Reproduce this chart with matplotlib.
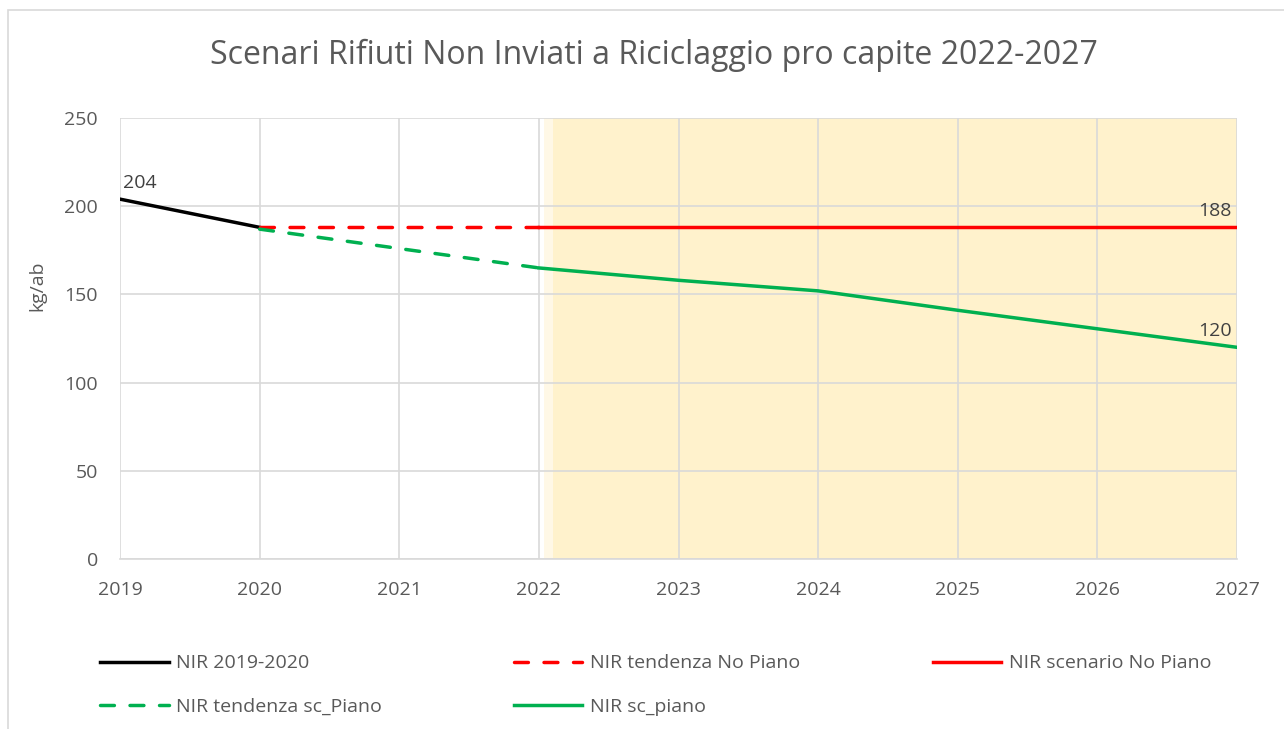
import numpy as np
import matplotlib.pyplot as plt
from matplotlib.patches import Rectangle

plt.rcParams['font.family'] = ['Open Sans', 'DejaVu Sans']

years = ['2019', '2020', '2021', '2022', '2023', '2024', '2025', '2026', '2027']
x = np.arange(len(years))

nir_2019_2020 = [204, 188]
tend_no_piano = [188, 188, 188]
scen_no_piano = [188, 188, 188, 188, 188, 188]
tend_sc_piano = [187, 176, 165]
sc_piano = [165, 158, 152, 141, 130.5, 120]

grey = '#595959'
red = '#FF0000'
green = '#00B050'

fig = plt.figure(figsize=(12.84, 7.29), dpi=100)
ax = fig.add_axes([120 / 1284, 1 - 559 / 729, (1237 - 120) / 1284, (559 - 118) / 729])

# chart border
fig.patches.append(Rectangle((8 / 1284, -0.01), 1.2, 1 - 10 / 729 + 0.01, transform=fig.transFigure,
                             fill=False, edgecolor='#D9D9D9', lw=1.2))

# shaded plan period
ax.axvspan(3.036, 3.1, color='#FFF8E6', lw=0, zorder=0)
ax.axvspan(3.1, 8, color='#FFF2CC', lw=0, zorder=0)

lw = 2.5
l1, = ax.plot(x[0:2], nir_2019_2020, color='black', lw=lw, label='NIR 2019-2020', zorder=3)
l2, = ax.plot(x[1:4], tend_no_piano, color=red, lw=lw, dashes=(4, 4.5), dash_capstyle='round',
              label='NIR tendenza No Piano', zorder=3)
l3, = ax.plot(x[3:9], scen_no_piano, color=red, lw=lw, label='NIR scenario No Piano', zorder=3)
l4, = ax.plot(x[1:4], tend_sc_piano, color=green, lw=lw, dashes=(4, 4.5), dash_capstyle='round',
              label='NIR tendenza sc_Piano', zorder=3)
l5, = ax.plot(x[3:9], sc_piano, color=green, lw=lw, label='NIR sc_piano', zorder=3)

# data labels
ax.annotate(str(nir_2019_2020[0]), (x[0], nir_2019_2020[0]), xytext=(2, 5), textcoords='offset points',
            ha='left', va='bottom', fontsize=14, color='#404040')
ax.annotate(str(scen_no_piano[-1]), (x[-1], scen_no_piano[-1]), xytext=(-4, 5), textcoords='offset points',
            ha='right', va='bottom', fontsize=14, color='#404040')
ax.annotate(str(sc_piano[-1]), (x[-1], sc_piano[-1]), xytext=(-4, 5), textcoords='offset points',
            ha='right', va='bottom', fontsize=14, color='#404040')

ax.set_xlim(0, 8)
ax.set_ylim(0, 250)
ax.set_xticks(x)
ax.set_xticklabels(years)
ax.set_yticks(np.arange(0, 251, 50))
ax.grid(True, color='#D9D9D9', lw=1.2, zorder=1)
ax.set_axisbelow(True)
for s in ['top', 'right', 'left']:
    ax.spines[s].set_visible(False)
ax.spines['bottom'].set_color('#D9D9D9')
ax.spines['bottom'].set_linewidth(1.2)
ax.tick_params(length=0, labelsize=14, labelcolor=grey)
ax.tick_params(axis='x', pad=16)
ax.tick_params(axis='y', pad=16)
ax.set_ylabel('kg/ab', fontsize=14, color=grey)
ax.yaxis.set_label_coords(-0.066, 0.62)

fig.text(654 / 1284, 1 - 55 / 729, 'Scenari Rifiuti Non Inviati a Riciclaggio pro capite 2022-2027',
         ha='center', va='center', fontsize=23, color=grey)

# legend rows: black, red dashed, red solid / green dashed, green solid
fig.legend([l1, l4, l2, l5, l3], [l.get_label() for l in [l1, l4, l2, l5, l3]],
           loc='upper left', bbox_to_anchor=(83 / 1284, 1 - 637 / 729), ncol=3,
           frameon=False, fontsize=14, labelcolor=grey, handlelength=3.5, handletextpad=0.4,
           columnspacing=6.8, labelspacing=1.3)

fig.savefig('out.png', dpi=100)
